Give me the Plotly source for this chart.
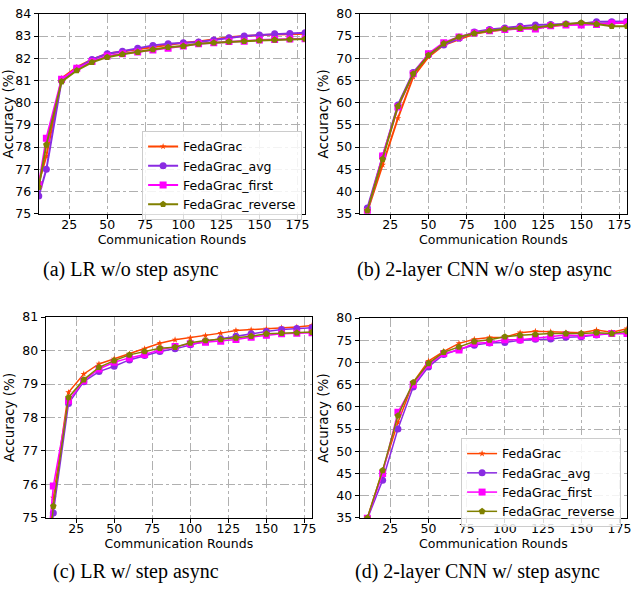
import plotly.graph_objects as go

rounds = [5, 10, 20, 30, 40, 50, 60, 70, 80, 90, 100, 110, 120, 130, 140, 150, 160, 170, 180]
series_names = ["FedaGrac", "FedaGrac_avg", "FedaGrac_first", "FedaGrac_reverse"]

# (a) LR w/o step async
a_fed = [76.4, 77.6, 81.1, 81.6, 81.95, 82.2, 82.3, 82.4, 82.5, 82.62, 82.7, 82.75, 82.85, 82.95, 83.0, 83.05, 83.07, 83.08, 83.1]
a_avg = [75.8, 77.0, 81.0, 81.55, 81.95, 82.2, 82.32, 82.45, 82.58, 82.65, 82.7, 82.73, 82.82, 82.92, 83.0, 83.05, 83.1, 83.12, 83.15]
a_first = [76.3, 78.4, 81.05, 81.55, 81.85, 82.1, 82.2, 82.28, 82.37, 82.45, 82.55, 82.65, 82.7, 82.75, 82.77, 82.82, 82.85, 82.87, 82.88]
a_rev = [76.2, 78.1, 80.95, 81.45, 81.82, 82.05, 82.18, 82.28, 82.4, 82.5, 82.55, 82.65, 82.7, 82.75, 82.77, 82.8, 82.83, 82.85, 82.87]

# (b) 2-layer CNN w/o step async
b_fed = [None, 35.5, 46.0, 56.5, 65.8, 70.3, 73.0, 74.3, 75.5, 76.1, 76.5, 76.7, 76.8, 77.2, 77.6, 77.8, 77.7, 77.9, 78.0]
b_avg = [None, 36.3, 48.0, 59.5, 66.8, 70.8, 73.0, 74.5, 75.9, 76.5, 76.8, 77.2, 77.5, 77.6, 77.7, 77.8, 78.2, 78.2, 78.3]
b_first = [None, 35.5, 48.0, 59.0, 66.5, 71.0, 73.5, 74.8, 75.7, 76.2, 76.5, 76.7, 76.6, 77.3, 77.5, 77.5, 77.6, 77.9, 78.1]
b_rev = [None, 35.7, 47.3, 59.2, 66.5, 70.7, 73.3, 74.8, 75.6, 76.2, 76.6, 76.8, 76.9, 77.4, 77.7, 78.0, 77.7, 77.2, 77.2]

# (c) LR w/ step async
c_fed = [73.0, 75.6, 78.75, 79.3, 79.6, 79.75, 79.9, 80.05, 80.22, 80.32, 80.38, 80.45, 80.52, 80.6, 80.62, 80.65, 80.68, 80.7, 80.75]
c_avg = [72.5, 75.15, 78.42, 79.07, 79.37, 79.53, 79.72, 79.85, 79.97, 80.05, 80.17, 80.28, 80.35, 80.43, 80.5, 80.57, 80.63, 80.66, 80.68]
c_first = [73.5, 75.95, 78.5, 79.1, 79.45, 79.65, 79.78, 79.88, 80.02, 80.12, 80.2, 80.25, 80.28, 80.33, 80.4, 80.46, 80.5, 80.52, 80.53]
c_rev = [72.8, 75.35, 78.6, 79.13, 79.5, 79.7, 79.87, 79.97, 80.07, 80.1, 80.23, 80.3, 80.33, 80.38, 80.43, 80.5, 80.52, 80.53, 80.55]

# (d) 2-layer CNN w/ step async
d_fed = [None, 35.0, 45.5, 56.5, 65.5, 70.3, 72.5, 74.3, 75.2, 75.6, 75.7, 76.7, 77.0, 76.9, 76.7, 76.7, 77.3, 76.8, 77.6]
d_avg = [None, 34.8, 43.5, 55.0, 64.5, 69.0, 71.8, 72.9, 73.9, 74.4, 74.5, 75.0, 75.2, 75.3, 75.7, 75.8, 76.2, 76.5, 76.5]
d_first = [None, 34.9, 45.0, 58.8, 65.0, 69.5, 72.0, 72.8, 74.3, 74.5, 75.1, 75.1, 75.5, 75.9, 76.2, 76.0, 76.3, 76.5, 76.5]
d_rev = [None, 35.0, 45.7, 58.0, 65.5, 69.8, 72.3, 73.5, 74.7, 75.1, 75.8, 76.1, 76.3, 76.5, 76.5, 76.5, 76.7, 76.5, 77.0]

x_ticks = [25, 50, 75, 100, 125, 150, 175]
captions = ["(a) LR w/o step async", "(b) 2-layer CNN w/o step async",
            "(c) LR w/ step async", "(d) 2-layer CNN w/ step async"]

colors = ["#FF4500", "#8A2BE2", "#FF00FF", "#808000"]
symbols = ["star", "circle", "square", "pentagon"]
msizes = [5, 7, 7, 7]

W, H = 637, 599
panels = [
    dict(data=[a_fed, a_avg, a_first, a_rev], x=(39, 307), y=(6, 211), yr=(75, 84), dt=1, lw=2.0, legend="legend"),
    dict(data=[b_fed, b_avg, b_first, b_rev], x=(362, 631), y=(6, 211), yr=(35, 80), dt=5, lw=2.0, legend=None),
    dict(data=[c_fed, c_avg, c_first, c_rev], x=(46, 314), y=(317, 523), yr=(75, 81), dt=1, lw=1.5, legend=None),
    dict(data=[d_fed, d_avg, d_first, d_rev], x=(362, 631), y=(318, 523), yr=(35, 80), dt=5, lw=1.5, legend="legend2"),
]

fig = go.Figure()
layout = dict(width=W, height=H, margin=dict(l=0, r=0, t=0, b=0),
              paper_bgcolor="white", plot_bgcolor="white",
              font=dict(family="DejaVu Sans", size=12, color="black"))
annotations = []
for i, p in enumerate(panels):
    n = "" if i == 0 else str(i + 1)
    xa, ya = "x" + n, "y" + n
    for k in range(4):
        fig.add_trace(go.Scatter(
            x=rounds, y=p["data"][k], name=series_names[k], mode="lines+markers",
            xaxis=xa, yaxis=ya,
            line=dict(color=colors[k], width=p["lw"]),
            marker=dict(symbol=symbols[k], size=msizes[k], color=colors[k]),
            showlegend=p["legend"] is not None,
            legend=p["legend"] if p["legend"] else "legend",
            cliponaxis=True,
        ))
    axis_common = dict(showline=True, linecolor="black", linewidth=1, mirror=True,
                       ticks="outside", ticklen=4, tickcolor="black",
                       showgrid=True, gridcolor="#b0b0b0", griddash="dashdot", gridwidth=0.8,
                       zeroline=False, tickfont=dict(size=12.5, color="black"))
    layout["xaxis" + n] = dict(axis_common,
                               domain=[p["x"][0] / W, p["x"][1] / W],
                               anchor=ya, range=[5, 180], tickvals=x_ticks,
                               ticklabelstandoff=-5,
                               title=dict(text="Communication Rounds", standoff=1, font=dict(size=12.5)))
    layout["yaxis" + n] = dict(axis_common,
                               domain=[1 - p["y"][1] / H, 1 - p["y"][0] / H],
                               anchor=xa, range=list(p["yr"]), dtick=p["dt"],
                               title=dict(text="Accuracy (%)", standoff=4, font=dict(size=13.5)))

cap_pos = [(132, 268), (488, 268), (137, 578), (481, 578)]
for (cx, cy), txt in zip(cap_pos, captions):
    annotations.append(dict(text=txt, x=cx / W, y=1 - cy / H, xref="paper", yref="paper",
                            showarrow=False, xanchor="center", yanchor="middle",
                            font=dict(family="Liberation Serif", size=20, color="black")))
layout["annotations"] = annotations

leg_common = dict(bgcolor="rgba(255,255,255,0.85)", bordercolor="#cccccc", borderwidth=1,
                  font=dict(size=12.5, color="black"), tracegroupgap=0, itemwidth=30,
                  xanchor="left", yanchor="top")
layout["legend"] = dict(leg_common, x=143 / W, y=1 - 126 / H)
layout["legend2"] = dict(leg_common, x=464 / W, y=1 - 441 / H)

fig.update_layout(**layout)
fig.write_html("out.html", config={"displayModeBar": False},
               post_script="document.body.style.margin='0';document.body.style.padding='0';")
